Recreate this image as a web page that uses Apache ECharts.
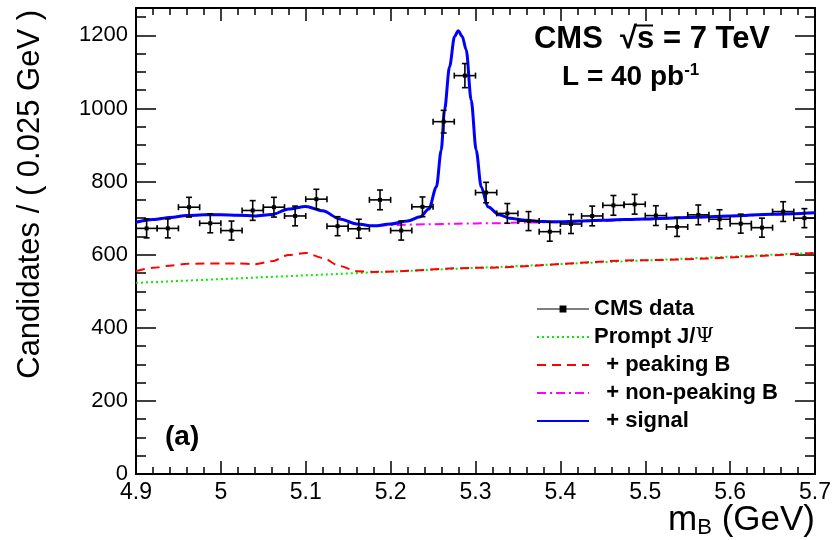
<!DOCTYPE html>
<html><head><meta charset="utf-8">
<script src="https://cdn.jsdelivr.net/npm/echarts@6/dist/echarts.min.js"></script>
<style>html,body{margin:0;padding:0;background:#fff}#c{width:834px;height:540px}</style>
</head><body><div id="c"></div>
<script>
// ---- data ----
const binCenters = [4.9125,4.9375,4.9625,4.9875,5.0125,5.0375,5.0625,5.0875,5.1125,5.1375,5.1625,5.1875,5.2125,5.2375,5.2625,5.2875,5.3125,5.3375,5.3625,5.3875,5.4125,5.4375,5.4625,5.4875,5.5125,5.5375,5.5625,5.5875,5.6125,5.6375,5.6625,5.6875];
const counts = [672,672,730,686,666,721,730,706,752,678,671,750,666,731,964,1090,770,713,692,663,684,706,735,738,707,676,709,697,685,674,718,700];
const errors = [26,26,27,26,26,27,27,27,27,26,26,27,26,27,31,33,28,27,26,26,26,27,27,27,27,26,27,26,26,26,27,26];
const binHalfWidth = 0.0125;

const greenX = [4.9, 5.3, 5.7];
const greenY = [523, 564, 605];

const redX = [4.90,4.92,4.94,4.96,4.98,5.00,5.02,5.04,5.06,5.08,5.10,5.12,5.14,5.16,5.18,5.30,5.50,5.70];
const redY = [555,564,570,575,576,576,576,574,582,599,605,591,569,555,553,564,585,605];

const magentaX = [4.90,4.92,4.94,4.96,4.98,5.00,5.02,5.04,5.06,5.08,5.10,5.12,5.14,5.16,5.18,5.20,5.24,5.28,5.32,5.36,5.40,5.45,5.50,5.55,5.60,5.65,5.70];
const magentaY = [689,696,702,707,709,709,708,706,710,725,732,720,698,684,679,681,683,685,686,688,689,693,697,701,705,710,714];

const blueX = [4.90,4.92,4.94,4.96,4.98,5.00,5.02,5.04,5.06,5.08,5.10,5.12,5.14,5.16,5.18,5.20,5.22,5.235,5.245,5.254,5.2596,5.2635,5.2694,5.2753,5.2796,5.2844,5.2891,5.2949,5.3008,5.3067,5.3145,5.3282,5.34,5.36,5.38,5.40,5.45,5.50,5.55,5.60,5.65,5.70];
const blueY = [689,696,702,707,709,709,708,706,710,725,732,720,698,684,679,684,692,704,725,786,886,996,1114,1197,1213,1197,1160,1023,886,786,731,709,700,694,691,690,694,698,702,706,711,715];

const xMin = 4.9, xMax = 5.7, xStep = 0.1;
const yMin = 0, yMax = 1275, yStep = 200;

// ---- chart ----
const FONT = '"Liberation Sans", Arial, Helvetica, sans-serif';
const pairs = (xs, ys) => xs.map((x, i) => [x, ys[i]]);
const dataPts = binCenters.map((x, i) => [x, counts[i], binHalfWidth, errors[i]]);

function renderErr(params, api) {
  const x = api.value(0), y = api.value(1), hw = api.value(2), e = api.value(3);
  const c = api.coord([x, y]);
  const l = api.coord([x - hw, y]), r = api.coord([x + hw, y]);
  const t = api.coord([x, y + e]), b = api.coord([x, y - e]);
  const cap = 3;
  const st = {stroke: '#000', lineWidth: 1.6};
  return {type: 'group', children: [
    {type: 'line', shape: {x1: l[0], y1: c[1], x2: r[0], y2: c[1]}, style: st},
    {type: 'line', shape: {x1: c[0], y1: t[1], x2: c[0], y2: b[1]}, style: st},
    {type: 'line', shape: {x1: l[0], y1: c[1] - cap, x2: l[0], y2: c[1] + cap}, style: st},
    {type: 'line', shape: {x1: r[0], y1: c[1] - cap, x2: r[0], y2: c[1] + cap}, style: st},
    {type: 'line', shape: {x1: c[0] - cap, y1: t[1], x2: c[0] + cap, y2: t[1]}, style: st},
    {type: 'line', shape: {x1: c[0] - cap, y1: b[1], x2: c[0] + cap, y2: b[1]}, style: st},
    {type: 'rect', shape: {x: c[0] - 2, y: c[1] - 2, width: 4, height: 4}, style: {fill: '#000'}}
  ]};
}

function xAx(pos, labels) {
  return {
    type: 'value', min: xMin, max: xMax, interval: xStep, position: pos,
    axisLine: {onZero: false, lineStyle: {color: '#000', width: 2}},
    axisTick: {inside: true, length: 13, lineStyle: {color: '#000', width: 1.5}},
    minorTick: {show: true, splitNumber: 5, length: 7, lineStyle: {color: '#000', width: 1.5}},
    axisLabel: {show: labels, color: '#000', fontSize: 23, fontFamily: FONT, margin: 7},
    splitLine: {show: false}, minorSplitLine: {show: false}
  };
}
function yAx(pos, labels) {
  return {
    type: 'value', min: yMin, max: yMax, interval: yStep, position: pos,
    axisLine: {onZero: false, lineStyle: {color: '#000', width: 2}},
    axisTick: {inside: true, length: 20, lineStyle: {color: '#000', width: 1.5}},
    minorTick: {show: true, splitNumber: 4, length: 10, lineStyle: {color: '#000', width: 1.5}},
    axisLabel: {show: labels, color: '#000', fontSize: 22, fontFamily: FONT, margin: 8, showMaxLabel: false,
      formatter: v => String(v)},
    splitLine: {show: false}, minorSplitLine: {show: false}
  };
}

const hideSym = {opacity: 0};
const chart = echarts.init(document.getElementById('c'), null, {renderer: 'canvas'});
chart.setOption({
  animation: false,
  backgroundColor: '#fff',
  grid: {left: 136, right: 18, top: 8, bottom: 66, containLabel: false},
  xAxis: [xAx('bottom', true), xAx('top', false)],
  yAxis: [yAx('left', true), yAx('right', false)],
  legend: {
    orient: 'vertical', left: 531, top: 293, itemWidth: 52, itemHeight: 7, itemGap: 6,
    selectedMode: false,
    textStyle: {fontFamily: FONT, fontWeight: 'bold', fontSize: 22, color: '#000', lineHeight: 22,
      rich: {psi: {fontFamily: '"DejaVu Serif", serif', fontWeight: 'normal', fontSize: 21, color: '#000'}}},
    formatter: n => n === 'Prompt J/Ψ' ? 'Prompt J/{psi|Ψ}' : (n.charAt(0) === '+' ? '  ' + n : n),
    data: [
      {name: 'CMS data', icon: 'path://M0,3H23V0H30V3H53V4H30V7H23V4H0Z'},
      {name: 'Prompt J/Ψ', itemStyle: hideSym},
      {name: '+ peaking B', itemStyle: hideSym},
      {name: '+ non-peaking B', itemStyle: hideSym},
      {name: '+ signal', itemStyle: hideSym}
    ]
  },
  graphic: [
    {type: 'text', x: 652, y: 39, style: {text: 'CMS  √s = 7 TeV', fontFamily: FONT, fontWeight: 'bold', fontSize: 31, fill: '#000', align: 'center', verticalAlign: 'middle'}},
    {type: 'line', shape: {x1: 634, y1: 25.5, x2: 653, y2: 25.5}, style: {stroke: '#000', lineWidth: 2}},
    {type: 'text', x: 562, y: 77, style: {text: 'L = 40 pb{sup|-1}', fontFamily: FONT, fontWeight: 'bold', fontSize: 28, fill: '#000', align: 'left', verticalAlign: 'middle',
      rich: {sup: {fontFamily: FONT, fontWeight: 'bold', fontSize: 17, fill: '#000', verticalAlign: 'top', padding: [0, 0, 14, 0]}}}},
    {type: 'text', x: 165, y: 437, style: {text: '(a)', fontFamily: FONT, fontWeight: 'bold', fontSize: 28, fill: '#000', align: 'left', verticalAlign: 'middle'}},
    {type: 'text', x: 815, y: 520, style: {text: 'm{sub|B} (GeV)', fontFamily: FONT, fontSize: 35, fill: '#000', align: 'right', verticalAlign: 'middle',
      rich: {sub: {fontFamily: FONT, fontSize: 22, fill: '#000', padding: [16, 0, 0, 0]}}}},
    {type: 'text', x: 30, y: 10, rotation: Math.PI / 2, style: {text: 'Candidates / ( 0.025 GeV )', fontFamily: FONT, fontSize: 31, fill: '#000', align: 'right', verticalAlign: 'middle'}}
  ],
  series: [
    {name: 'Prompt J/Ψ', type: 'line', data: pairs(greenX, greenY), symbol: 'none', z: 2,
      lineStyle: {color: '#00ee00', width: 2, type: [2, 3]}, itemStyle: {color: '#00ee00'}},
    {name: '+ peaking B', type: 'line', data: pairs(redX, redY), symbol: 'none', smooth: 0.3, smoothMonotone: 'x', z: 3,
      lineStyle: {color: '#ff0000', width: 2, type: [9, 6]}, itemStyle: {color: '#ff0000'}},
    {name: '+ non-peaking B', type: 'line', data: pairs(magentaX, magentaY), symbol: 'none', smooth: 0.3, smoothMonotone: 'x', z: 4,
      lineStyle: {color: '#ff00ff', width: 2, type: [9, 4, 2, 4]}, itemStyle: {color: '#ff00ff'}},
    {name: '+ signal', type: 'line', data: pairs(blueX, blueY), symbol: 'none', smooth: 0.3, smoothMonotone: 'x', z: 5,
      lineStyle: {color: '#0000ff', width: 3}, itemStyle: {color: '#0000ff'}},
    {name: 'CMS data', type: 'custom', renderItem: renderErr, data: dataPts, encode: {x: 0, y: 1}, z: 10,
      itemStyle: {color: '#000'}}
  ]
});
</script></body></html>
